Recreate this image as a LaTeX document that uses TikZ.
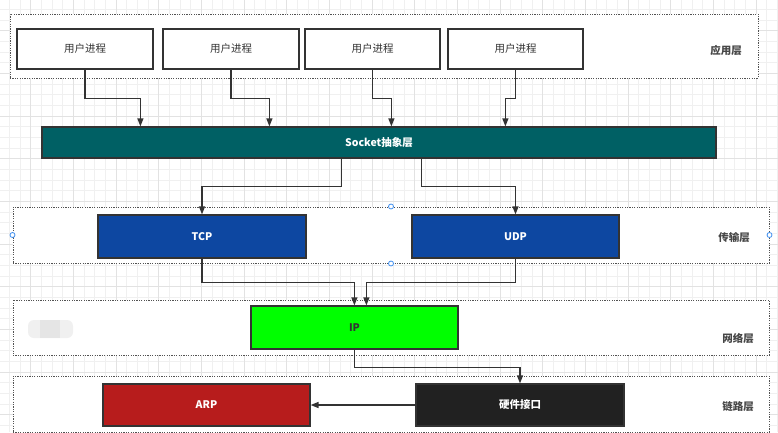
\documentclass[tikz,border=0pt]{standalone}
\usepackage{fontspec}
\setmainfont{Noto Sans CJK SC}
\usetikzlibrary{arrows.meta}
\definecolor{gridminor}{HTML}{F0F0F0}
\definecolor{gridmajor}{HTML}{E2E2E2}
\definecolor{edgec}{HTML}{333333}
\definecolor{sockc}{HTML}{006064}
\definecolor{tcpc}{HTML}{0D47A1}
\definecolor{ipc}{HTML}{00FF00}
\definecolor{arpc}{HTML}{B71C1C}
\definecolor{hwc}{HTML}{212121}
\definecolor{handlec}{HTML}{3D8EF0}
\tikzset{
  procbox/.style={draw=edgec, line width=1.2pt, fill=white, minimum width=136pt, minimum height=40pt, inner sep=0pt, font=\fontsize{10.5}{12}\selectfont, text=edgec},
  colbox/.style={draw=edgec, line width=1.2pt, minimum width=207pt, minimum height=43pt, inner sep=0pt, font=\fontsize{10.5}{12}\selectfont\bfseries, text=white},
  layerbox/.style={draw=edgec!85, dash pattern=on 1.2pt off 1.2pt, line width=1pt, inner sep=0pt},
  layerlabel/.style={font=\fontsize{10.5}{12}\selectfont\bfseries, text=edgec!90},
  arr/.style={draw=edgec, line width=1.2pt, -{Triangle[length=8pt,width=6pt]}},
  handle/.style={circle, draw=handlec, fill=white, line width=0.8pt, minimum size=5pt, inner sep=0pt}
}
\begin{document}
\begin{tikzpicture}[x=1pt,y=-1pt]
\useasboundingbox (0,0) rectangle (778,432);
\fill[white] (0,0) rectangle (778,432);
% grid
\foreach \i in {0,...,73} {
  \draw[gridminor, line width=0.6pt] ({9.4+\i*10.667},0) -- ({9.4+\i*10.667},432);
}
\foreach \i in {0,...,40} {
  \draw[gridminor, line width=0.6pt] (0,{9.3+\i*10.667}) -- (778,{9.3+\i*10.667});
}
\foreach \i in {0,...,18} {
  \draw[gridmajor, line width=0.7pt] ({30.7+\i*42.667},0) -- ({30.7+\i*42.667},432);
}
\foreach \i in {0,...,10} {
  \draw[gridmajor, line width=0.7pt] (0,{30.7+\i*42.667}) -- (778,{30.7+\i*42.667});
}
% layer boxes
\node[layerbox, fill=white, minimum width=748pt, minimum height=64pt] (appL) at (384,46) {};
\node[layerbox, fill=white, minimum width=756pt, minimum height=56pt] (transL) at (391,235) {};
\node[layerbox, fill=white, minimum width=756pt, minimum height=55pt] (netL) at (391,327.5) {};
\node[layerbox, fill=white, minimum width=756pt, minimum height=56pt] (linkL) at (391,404) {};
\node[layerlabel] (appT) at (726,50) {应用层};
\node[layerlabel] (transT) at (734,238) {传输层};
\node[layerlabel] (netT) at (738,338) {网络层};
\node[layerlabel] (linkT) at (738,407) {链路层};
% smudge
\fill[gray!12, rounded corners=6pt] (28,320) rectangle (73,338);
\fill[gray!20] (40,320) rectangle (60,338);
% selection handles
\node[handle] (h1) at (transL.west) {};
\node[handle] (h2) at (transL.north) {};
\node[handle] (h3) at (transL.south) {};
\node[handle] (h4) at (transL.east) {};
% process boxes
\node[procbox] (p1) at (85,49) {用户进程};
\node[procbox] (p2) at (231,49) {用户进程};
\node[procbox, minimum width=135pt] (p3) at (372.5,49) {用户进程};
\node[procbox, minimum width=135pt] (p4) at (515.5,49) {用户进程};
% socket
\node[colbox, fill=sockc, minimum width=674pt, minimum height=31pt] (sock) at (379,142.5) {Socket抽象层};
% transport
\node[colbox, fill=tcpc, minimum width=208pt] (tcp) at (202,236.5) {TCP};
\node[colbox, fill=tcpc] (udp) at (515.5,236.5) {UDP};
% network
\node[colbox, fill=ipc, text=edgec] (ip) at (354.5,327.5) {IP};
% link
\node[colbox, fill=arpc, minimum height=42pt] (arp) at (206.5,405) {ARP};
\node[colbox, fill=hwc, minimum width=208pt, minimum height=42pt] (hw) at (520,405) {硬件接口};
% arrows: processes -> socket
\draw[arr] (p1.south) -- ++(0,29) -| ([xshift=99pt]sock.north west);
\draw[arr] (p2.south) -- ++(0,29) -| ([xshift=228pt]sock.north west);
\draw[arr] (p3.south) -- ++(0,29) -| ([xshift=350pt]sock.north west);
\draw[arr] (p4.south) -- ++(0,29) -| ([xshift=464pt]sock.north west);
% socket -> tcp/udp
\draw[arr] ([xshift=300pt]sock.south west) -- ++(0,28) -| (tcp.north);
\draw[arr] ([xshift=380pt]sock.south west) -- ++(0,28) -| (udp.north);
% tcp/udp -> ip
\draw[arr] (tcp.south) -- ++(0,24) -| ([xshift=104pt]ip.north west);
\draw[arr] (udp.south) -- ++(0,24) -| ([xshift=116pt]ip.north west);
% ip -> hw
\draw[arr] (ip.south) -- ++(0,18) -| (hw.north);
% hw -> arp
\draw[arr, line width=1.5pt] (hw.west) -- (arp.east);
\end{tikzpicture}
\end{document}
